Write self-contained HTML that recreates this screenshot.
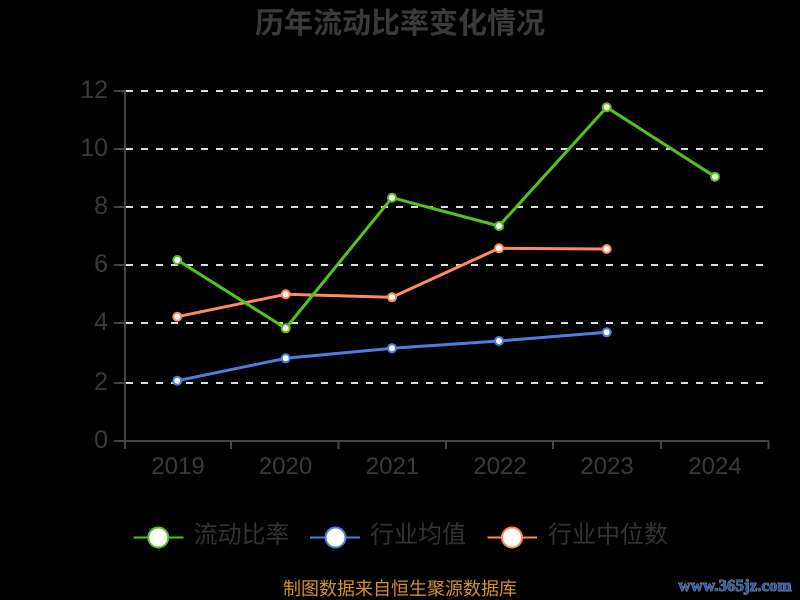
<!DOCTYPE html>
<html><head><meta charset="utf-8"><style>
html,body{margin:0;padding:0;background:#000;}
svg{display:block;}
</style></head><body>
<svg width="800" height="600" viewBox="0 0 800 600" xmlns="http://www.w3.org/2000/svg">
<rect x="0" y="0" width="800" height="600" fill="#000"/>
<text x="400" y="33" text-anchor="middle" font-family="Liberation Sans, Noto Sans CJK SC, sans-serif" font-size="29" font-weight="bold" fill="#3a3a3a">历年流动比率变化情况</text>
<g stroke="#dcdcdc" stroke-width="2" stroke-dasharray="7,8">
<line x1="126" y1="91" x2="768" y2="91"/>
<line x1="126" y1="149" x2="768" y2="149"/>
<line x1="126" y1="207" x2="768" y2="207"/>
<line x1="126" y1="265" x2="768" y2="265"/>
<line x1="126" y1="323" x2="768" y2="323"/>
<line x1="126" y1="383" x2="768" y2="383"/>
</g>
<g stroke="#444" stroke-width="2" fill="none">
<line x1="125" y1="90" x2="125" y2="441"/>
<line x1="124" y1="441" x2="769" y2="441"/>
<line x1="114" y1="91" x2="125" y2="91"/>
<line x1="114" y1="149" x2="125" y2="149"/>
<line x1="114" y1="207" x2="125" y2="207"/>
<line x1="114" y1="265" x2="125" y2="265"/>
<line x1="114" y1="323" x2="125" y2="323"/>
<line x1="114" y1="383" x2="125" y2="383"/>
<line x1="114" y1="441" x2="125" y2="441"/>
<line x1="125" y1="441" x2="125" y2="449"/>
<line x1="231" y1="441" x2="231" y2="449"/>
<line x1="338.5" y1="441" x2="338.5" y2="449"/>
<line x1="446" y1="441" x2="446" y2="449"/>
<line x1="553" y1="441" x2="553" y2="449"/>
<line x1="661" y1="441" x2="661" y2="449"/>
<line x1="768.5" y1="441" x2="768.5" y2="449"/>
</g>
<g font-family="Liberation Sans, sans-serif" font-size="25" fill="#3a3a3a" text-anchor="end">
<text x="108" y="98">12</text>
<text x="108" y="156">10</text>
<text x="108" y="214">8</text>
<text x="108" y="272">6</text>
<text x="108" y="330">4</text>
<text x="108" y="390">2</text>
<text x="108" y="448">0</text>
</g>
<g font-family="Liberation Sans, sans-serif" font-size="24" fill="#3a3a3a" text-anchor="middle">
<text x="178" y="474">2019</text>
<text x="285.5" y="474">2020</text>
<text x="392.5" y="474">2021</text>
<text x="500" y="474">2022</text>
<text x="607" y="474">2023</text>
<text x="715" y="474">2024</text>
</g>
<!-- blue -->
<polyline points="177.3,380.7 285.7,358.3 392,348.3 499,341 606.7,332.3" fill="none" stroke="#4a7fe0" stroke-width="3" stroke-linejoin="round"/>
<g fill="#fff" stroke="#4a7fe0" stroke-width="2">
<circle cx="177.3" cy="380.7" r="4"/><circle cx="285.7" cy="358.3" r="4"/><circle cx="392" cy="348.3" r="4"/><circle cx="499" cy="341" r="4"/><circle cx="606.7" cy="332.3" r="4"/>
</g>
<!-- orange -->
<polyline points="177.3,316.7 285.7,294.3 392,297.3 499,248.3 606.7,249" fill="none" stroke="#ff8a5b" stroke-width="3" stroke-linejoin="round"/>
<g fill="#fff" stroke="#ff8a5b" stroke-width="2">
<circle cx="177.3" cy="316.7" r="4"/><circle cx="285.7" cy="294.3" r="4"/><circle cx="392" cy="297.3" r="4"/><circle cx="499" cy="248.3" r="4"/><circle cx="606.7" cy="249" r="4"/>
</g>
<!-- green -->
<polyline points="177.3,260 285.7,328.3 392,197.7 499,226 606.7,107.3 715,176.7" fill="none" stroke="#52c41a" stroke-width="3" stroke-linejoin="round"/>
<g fill="#fff" stroke="#52c41a" stroke-width="2">
<circle cx="177.3" cy="260" r="4"/><circle cx="285.7" cy="328.3" r="4"/><circle cx="392" cy="197.7" r="4"/><circle cx="499" cy="226" r="4"/><circle cx="606.7" cy="107.3" r="4"/><circle cx="715" cy="176.7" r="4"/>
</g>
<!-- legend -->
<g stroke-width="2">
<line x1="133.5" y1="537.5" x2="183.5" y2="537.5" stroke="#52c41a"/>
<circle cx="158.3" cy="537.5" r="10" fill="#fff" stroke="#52c41a"/>
<line x1="310" y1="537.5" x2="360" y2="537.5" stroke="#4a7fe0"/>
<circle cx="335.5" cy="537.5" r="10" fill="#fff" stroke="#4a7fe0"/>
<line x1="487.5" y1="537.5" x2="537" y2="537.5" stroke="#ff8a5b"/>
<circle cx="512" cy="537.5" r="10" fill="#fff" stroke="#ff8a5b"/>
</g>
<g font-family="Liberation Sans, Noto Sans CJK SC, sans-serif" font-size="24" fill="#333">
<text x="193.5" y="542.5">流动比率</text>
<text x="370" y="542.5">行业均值</text>
<text x="548" y="542.5">行业中位数</text>
</g>
<text x="400" y="595" text-anchor="middle" font-family="Liberation Sans, Noto Sans CJK SC, sans-serif" font-size="18" fill="#d4932a">制图数据来自恒生聚源数据库</text>
<text x="735" y="591" text-anchor="middle" font-family="Liberation Serif, serif" font-size="17" font-weight="bold" fill="#2a5aa8" stroke="#9aa8b8" stroke-width="0.8" paint-order="stroke">www.365jz.com</text>
</svg>
</body></html>
